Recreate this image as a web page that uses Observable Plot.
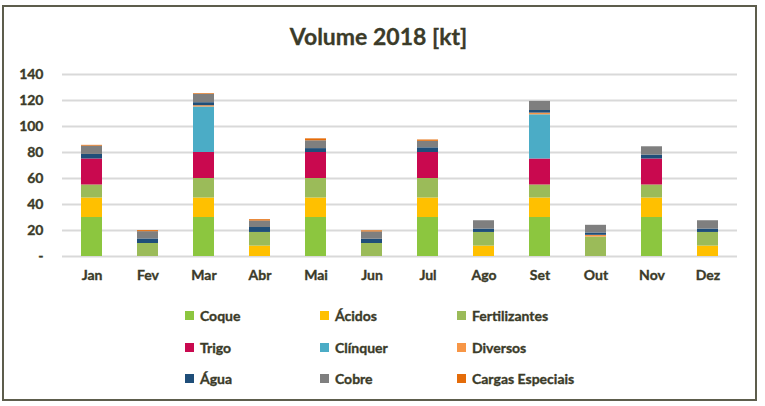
<!DOCTYPE html>
<html>
<head>
<meta charset="utf-8">
<script src="https://cdn.jsdelivr.net/npm/d3@7"></script>
<script src="https://cdn.jsdelivr.net/npm/@observablehq/plot@0.6"></script>
<style>
  html, body { margin: 0; padding: 0; background: #fff; }
  #wrap { position: relative; width: 765px; height: 406px; overflow: hidden; font-family: Lato, "Open Sans", sans-serif; }
  #frame { position: absolute; left: 2px; top: 5px; width: 751px; height: 392px; border: 2px solid #5d5d4c; box-sizing: content-box; }
  #title { position: absolute; left: 0; width: 757px; top: 22px; text-align: center; font-size: 23px; font-weight: 700; color: #3b3b29; -webkit-text-stroke: 0.3px #3b3b29; }
  #chart { position: absolute; left: 0; top: 0; }
  .leg { position: absolute; display: flex; align-items: center; font-size: 14px; font-weight: 700; color: #3b3b29; white-space: nowrap; -webkit-text-stroke: 0.35px #3b3b29; }
  .sw { width: 9px; height: 9px; margin-right: 6px; }
  #chart text { stroke: #3b3b29; stroke-width: 0.35px; }
</style>
</head>
<body>
<div id="wrap">
  <div id="frame"></div>
  <div id="title">Volume 2018 [kt]</div>
  <div id="chart"></div>
  <div id="legend"></div>
</div>
<script>
const months = ["Jan","Fev","Mar","Abr","Mai","Jun","Jul","Ago","Set","Out","Nov","Dez"];
const seriesNames = ["Coque","Ácidos","Fertilizantes","Trigo","Clínquer","Diversos","Água","Cobre","Cargas Especiais"];
const seriesColors = ["#8cc63f","#ffc000","#9bbb59","#c9094f","#4bacc6","#f79646","#1f4e79","#7f7f7f","#e46c0a"];

const coque        = [30, 0, 30, 0, 30, 0, 30, 0, 30, 0, 30, 0];
const acidos       = [15, 0, 15, 8, 15, 0, 15, 8, 15, 0, 15, 8];
const fertilizantes= [10, 10, 15, 10.5, 15, 10, 15, 10.5, 10, 15, 10, 10.5];
const trigo        = [20, 0, 20, 0, 20, 0, 20, 0, 20, 0, 20, 0];
const clinquer     = [0, 0, 35, 0, 0, 0, 0, 0, 34, 0, 0, 0];
const diversos     = [0, 0, 1, 0, 0, 0, 0, 0, 1.3, 1.3, 0, 0];
const agua         = [3.5, 3.5, 2.3, 3.8, 3, 3.3, 3.6, 2.6, 2, 1.8, 3, 2.6];
const cobre        = [6.4, 5.6, 6.5, 5, 6, 5.6, 5, 6.4, 7, 5.9, 6.4, 6.4];
const cargas       = [0.6, 0.8, 0.5, 1, 1.5, 0.8, 1, 0, 0, 0, 0, 0];

const yTicks = [0, 20, 40, 60, 80, 100, 120, 140];

const seriesValues = [coque, acidos, fertilizantes, trigo, clinquer, diversos, agua, cobre, cargas];
const rows = [];
months.forEach((m, i) => {
  seriesNames.forEach((s, j) => {
    rows.push({month: m, series: s, value: seriesValues[j][i]});
  });
});

const chart = Plot.plot({
  width: 765,
  height: 406,
  marginLeft: 62,
  marginRight: 28,
  marginTop: 74,
  marginBottom: 150,
  style: {fontFamily: "Lato, 'Open Sans', sans-serif", fontSize: "14px", fontWeight: 700, color: "#3b3b29", background: "transparent"},
  x: {domain: months, paddingInner: 0.62, paddingOuter: 0.31, label: null},
  y: {domain: [0, 140], label: null},
  color: {domain: seriesNames, range: seriesColors},
  marks: [
    Plot.ruleY(yTicks, {stroke: "#d9d9d9", strokeWidth: 2}),
    Plot.barY(rows, Plot.stackY({x: "month", y: "value", fill: "series", order: seriesNames})),
    Plot.axisY({ticks: yTicks, tickSize: 0, tickPadding: 19, tickFormat: d => d === 0 ? "-" : String(d), fill: "#3b3b29"}),
    Plot.axisX({tickSize: 0, tickPadding: 14, fill: "#3b3b29"})
  ]
});
document.getElementById("chart").appendChild(chart);

const legendCols = [185, 320, 457];
const legendRows = [315, 347, 378];
const legend = document.getElementById("legend");
seriesNames.forEach((s, i) => {
  const d = document.createElement("div");
  d.className = "leg";
  d.style.left = legendCols[i % 3] + "px";
  d.style.top = (legendRows[Math.floor(i / 3)] - 9) + "px";
  d.style.height = "18px";
  const sw = document.createElement("div");
  sw.className = "sw";
  sw.style.background = seriesColors[i];
  d.appendChild(sw);
  const t = document.createElement("span");
  t.textContent = s;
  d.appendChild(t);
  legend.appendChild(d);
});
</script>
</body>
</html>
